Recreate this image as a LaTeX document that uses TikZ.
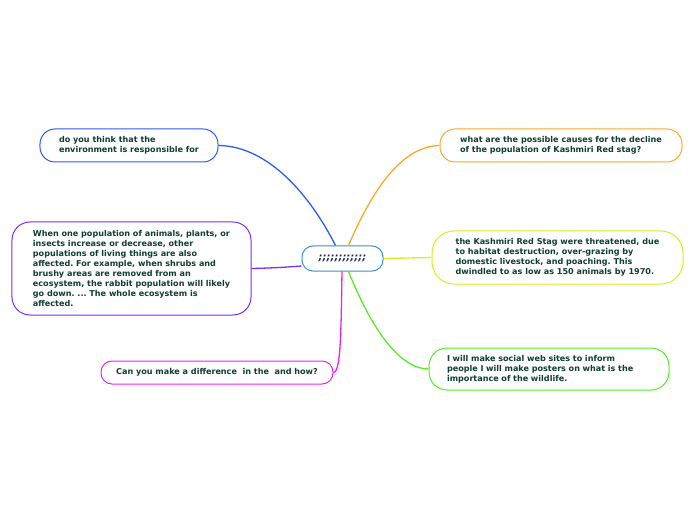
\documentclass[tikz,border=0pt]{standalone}
\usepackage{fontspec}
\setmainfont{DejaVu Sans}
\frenchspacing
\definecolor{ink}{HTML}{0F3D33}
\definecolor{rootink}{HTML}{1F2D4D}
\definecolor{rootline}{HTML}{3D8FD0}
\definecolor{blueline}{HTML}{2F5BF0}
\definecolor{purpleline}{HTML}{7B2FF0}
\definecolor{magentaline}{HTML}{EE22EE}
\definecolor{orangeline}{HTML}{FFA826}
\definecolor{limeline}{HTML}{D6F01E}
\definecolor{greenline}{HTML}{55EE22}

\begin{document}
\begin{tikzpicture}[
  x=1bp, y=-1bp,
  font=\fontsize{8.1}{10}\selectfont\bfseries, text=ink,
  topic/.style={draw, fill=white, line width=1bp, align=left, inner sep=0pt},
  root/.style={draw=rootline, fill=white, line width=1bp, rounded corners=11bp,
    minimum width=81bp, minimum height=25bp, text=rootink,
    font=\fontsize{10}{12}\selectfont\bfseries\itshape},
  branch/.style={line width=1.3bp}
]
\useasboundingbox (0,0) rectangle (696,520);

% Central topic and its six questions / answers.
\node[root] (root) at (342.5,258.5) {;;;;;;;;;;;;};

\node[topic, draw=blueline, rounded corners=15bp, minimum width=178bp,
  minimum height=33bp] (env) at (129,145.5)
  {do you think that the\\environment is responsible for};
\node[topic, draw=purpleline, rounded corners=18bp, minimum width=239bp,
  minimum height=93bp] (pop) at (131.5,268.5)
  {When one population of animals, plants, or\\insects increase or decrease, other\\populations of living things are also\\affected. For example, when shrubs and\\brushy areas are removed from an\\ecosystem, the rabbit population will likely\\go down. ... The whole ecosystem is\\affected.};
\node[topic, draw=magentaline, rounded corners=11bp, minimum width=232bp,
  minimum height=23bp] (diff) at (217,372.5)
  {Can you make a difference\ \ in the\ \ and how?};
\node[topic, draw=orangeline, rounded corners=15bp, minimum width=242bp,
  minimum height=33bp] (causes) at (561,145.5)
  {what are the possible causes for the decline\\of the population of Kashmiri Red stag?};
\node[topic, draw=limeline, rounded corners=22bp, minimum width=251bp,
  minimum height=53bp] (stag) at (557.5,257.5)
  {the Kashmiri Red Stag were threatened, due\\to habitat destruction, over-grazing by\\domestic livestock, and poaching. This\\dwindled to as low as 150 animals by 1970.};
\node[topic, draw=greenline, rounded corners=18bp, inner xsep=18bp,
  text width=204bp, minimum height=42bp] (web) at (549,369)
  {I will make social web sites to inform\\people I will make posters on what is the\\importance of the wildlife.};

% Branches from the centre.
\draw[branch, blueline] (env.east) .. controls (268,146) and (310,195)
  .. ([xshift=-7bp]root.north);
\draw[branch, orangeline] ([xshift=6bp]root.north) .. controls (370,195)
  and (400,146) .. (causes.west);
\draw[branch, limeline] (root.east) -- (stag.west);
\draw[branch, purpleline] (pop.east) .. controls (275,268) and (288,267)
  .. ([yshift=-7.5bp]root.west);
\draw[branch, magentaline] ([xshift=-0.5bp]root.south) .. controls (341,330)
  and (341,372) .. (diff.east);
\draw[branch, greenline] ([xshift=6bp]root.south) .. controls (372,330)
  and (400,369) .. (web.west);
\end{tikzpicture}
\end{document}
